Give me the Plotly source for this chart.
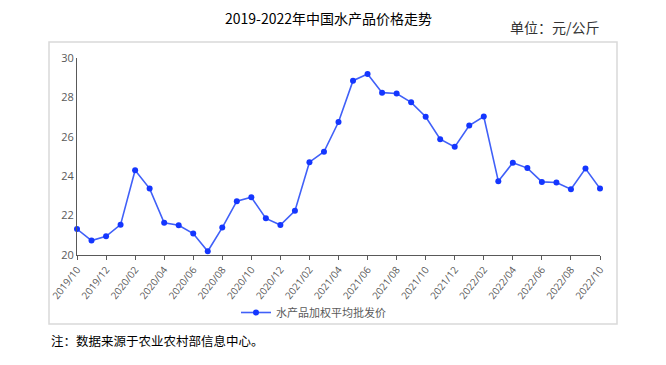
import plotly.graph_objects as go

months = ["2019/10","2019/11","2019/12","2020/01","2020/02","2020/03","2020/04","2020/05","2020/06",
          "2020/07","2020/08","2020/09","2020/10","2020/11","2020/12","2021/01","2021/02","2021/03",
          "2021/04","2021/05","2021/06","2021/07","2021/08","2021/09","2021/10","2021/11","2021/12",
          "2022/01","2022/02","2022/03","2022/04","2022/05","2022/06","2022/07","2022/08","2022/09","2022/10"]
prices = [21.32,20.73,20.95,21.54,24.30,23.37,21.64,21.51,21.09,
          20.19,21.39,22.73,22.93,21.86,21.52,22.24,24.71,25.24,
          26.75,28.85,29.19,28.24,28.20,27.75,27.02,25.88,25.49,
          26.57,27.03,23.75,24.68,24.41,23.71,23.68,23.34,24.39,23.37]
series_name = "水产品加权平均批发价"
title_text = "2019-2022年中国水产品价格走势"
unit_text = "单位：元/公斤"
note_text = "注：数据来源于农业农村部信息中心。"
y_ticks = [20, 22, 24, 26, 28, 30]

idx = list(range(len(months)))
tick_idx = idx[::2]
tick_lbl = months[::2]

font_cjk = "Noto Sans CJK SC"

fig = go.Figure()
fig.add_trace(go.Scatter(
    x=idx, y=prices, mode="lines+markers", name=series_name,
    line=dict(color="#4060f8", width=1.6),
    marker=dict(color="#1436ff", size=6),
    cliponaxis=False,
))

OFF = 8  # page body margin
W, H = 666, 365
# desired plot area in screen px: x 77..600, y 58..255
SL, SR, ST, SB = 77, 600, 58, 255
L = SL - OFF
T = ST - OFF
R = W - (SR - OFF)
B = H - (SB - OFF)
pw, ph = SR - SL, SB - ST

def px(xs):
    return (xs - SL) / pw

def py(ys):
    return (SB - ys) / ph

fig.update_layout(
    width=W, height=H,
    margin=dict(l=L, r=R, t=T, b=B),
    paper_bgcolor="white", plot_bgcolor="white",
    showlegend=True,
    legend=dict(orientation="h", x=px(236), y=py(298), xanchor="left", yanchor="top",
                font=dict(family=font_cjk, size=11, color="#595959"),
                bgcolor="rgba(0,0,0,0)"),
    xaxis=dict(range=[0, len(months) - 1], tickmode="array", tickvals=tick_idx, ticktext=tick_lbl,
               tickangle=-52, showgrid=False, zeroline=False, showline=True, linecolor="#595959",
               linewidth=1, ticks="outside", ticklen=4, tickcolor="#595959",
               tickfont=dict(family="Open Sans", size=10, color="#595959")),
    yaxis=dict(range=[20, 30], tickmode="array", tickvals=y_ticks, showgrid=False, zeroline=False,
               showline=True, linecolor="#595959", linewidth=1, ticks="",
               tickfont=dict(family="Open Sans", size=11, color="#595959")),
    shapes=[dict(type="rect", xref="paper", yref="paper", x0=px(49), x1=px(617), y0=py(324), y1=py(42),
                 line=dict(color="#d9d9d9", width=1.5), fillcolor="rgba(0,0,0,0)", layer="below")],
    annotations=[
        dict(text=title_text, xref="paper", yref="paper", x=px(328), y=py(17.5), xanchor="center",
             yanchor="middle", showarrow=False, font=dict(family=font_cjk, size=14, color="#000000")),
        dict(text=unit_text, xref="paper", yref="paper", x=px(602), y=py(27), xanchor="right",
             yanchor="middle", showarrow=False, font=dict(family=font_cjk, size=14, color="#333333")),
        dict(text=note_text, xref="paper", yref="paper", x=px(49), y=py(340), xanchor="left",
             yanchor="middle", showarrow=False, font=dict(family=font_cjk, size=12.5, color="#000000")),
    ],
)

fig.write_html("out.html")
